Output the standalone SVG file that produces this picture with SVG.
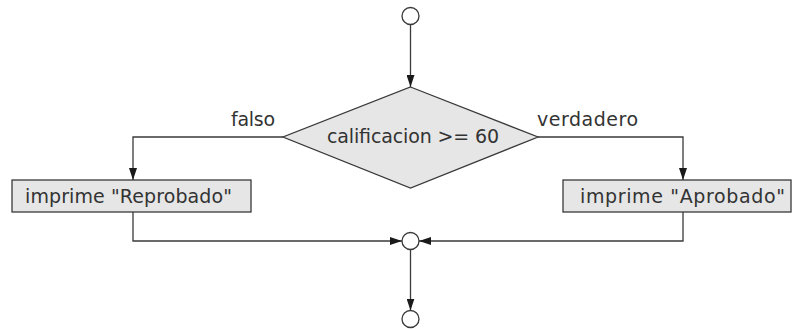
<svg xmlns="http://www.w3.org/2000/svg" width="794" height="330" viewBox="0 0 794 330">
<defs>
<style>
.ln{fill:none;stroke:#3a3a3a;stroke-width:1.3}
.sh{fill:#e6e6e6;stroke:#3a3a3a;stroke-width:1.3}
.ci{fill:#ffffff;stroke:#3a3a3a;stroke-width:1.3}
.tx{font-family:"DejaVu Sans",sans-serif;font-size:19px;fill:#333333}
</style>
<marker id="ah" viewBox="0 0 12 8" refX="12" refY="4" markerWidth="12" markerHeight="8" markerUnits="userSpaceOnUse" orient="auto">
<path d="M0,0 L12,4 L0,8 Z" fill="#1a1a1a"/>
</marker>
</defs>
<rect width="794" height="330" fill="#ffffff"/>
<g id="connectors">
<line class="ln" x1="410.5" y1="24.5" x2="410.5" y2="87" marker-end="url(#ah)"/>
<polyline class="ln" points="283,137 133,137 133,180" marker-end="url(#ah)"/>
<polyline class="ln" points="538,137 683,137 683,180" marker-end="url(#ah)"/>
<polyline class="ln" points="133,212 133,241 402,241" marker-end="url(#ah)"/>
<polyline class="ln" points="683,212 683,241 419,241" marker-end="url(#ah)"/>
<line class="ln" x1="410.5" y1="249.5" x2="410.5" y2="310.5" marker-end="url(#ah)"/>
<text class="tx" x="231" y="126" textLength="44" lengthAdjust="spacing">falso</text>
<text class="tx" x="537" y="126" textLength="101" lengthAdjust="spacing">verdadero</text>
</g>
<g id="start">
<circle class="ci" cx="410.5" cy="16" r="8.5"/>
</g>
<g id="decision">
<polygon class="sh" points="410.5,87 538,137 410.5,188 283,137"/>
<text class="tx" x="327" y="143" textLength="172" lengthAdjust="spacing">calificacion &gt;= 60</text>
</g>
<g id="reprobado">
<rect class="sh" x="12" y="180" width="239" height="32"/>
<text class="tx" x="25" y="203" textLength="207" lengthAdjust="spacing">imprime "Reprobado"</text>
</g>
<g id="aprobado">
<rect class="sh" x="563" y="180" width="228" height="32"/>
<text class="tx" x="580" y="203" textLength="205" lengthAdjust="spacing">imprime "Aprobado"</text>
</g>
<g id="merge">
<circle class="ci" cx="410.5" cy="241" r="8.5"/>
</g>
<g id="end">
<circle class="ci" cx="410.5" cy="319" r="8.5"/>
</g>
</svg>
